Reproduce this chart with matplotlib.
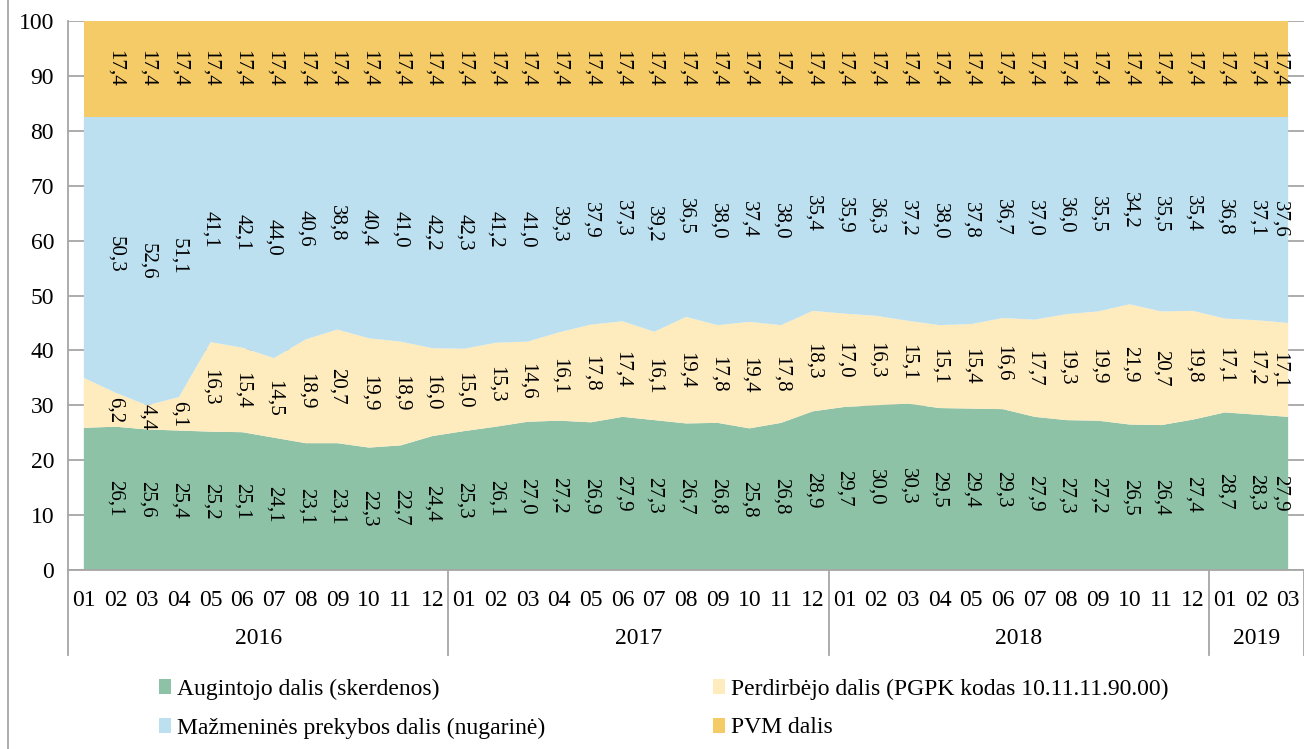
import matplotlib

matplotlib.use("Agg")
import matplotlib.pyplot as plt
from matplotlib.lines import Line2D
from matplotlib.patches import Patch

plt.rcParams["font.family"] = ["Liberation Serif", "DejaVu Serif"]

# monthly shares of retail price, %, 2016-01 .. 2019-03
months = ["01", "02", "03", "04", "05", "06", "07", "08", "09", "10", "11", "12"] * 3 + ["01", "02", "03"]
years = ["2016", "2017", "2018", "2019"]
year_len = [12, 12, 12, 3]

augintojo = [25.9, 26.1, 25.6, 25.4, 25.2, 25.1, 24.1, 23.1, 23.1, 22.3, 22.7, 24.4,
             25.3, 26.1, 27.0, 27.2, 26.9, 27.9, 27.3, 26.7, 26.8, 25.8, 26.8, 28.9,
             29.7, 30.0, 30.3, 29.5, 29.4, 29.3, 27.9, 27.3, 27.2, 26.5, 26.4, 27.4,
             28.7, 28.3, 27.9]
perdirbejo = [9.1, 6.2, 4.4, 6.1, 16.3, 15.4, 14.5, 18.9, 20.7, 19.9, 18.9, 16.0,
              15.0, 15.3, 14.6, 16.1, 17.8, 17.4, 16.1, 19.4, 17.8, 19.4, 17.8, 18.3,
              17.0, 16.3, 15.1, 15.1, 15.4, 16.6, 17.7, 19.3, 19.9, 21.9, 20.7, 19.8,
              17.1, 17.2, 17.1]
mazmenine = [47.6, 50.3, 52.6, 51.1, 41.1, 42.1, 44.0, 40.6, 38.8, 40.4, 41.0, 42.2,
             42.3, 41.2, 41.0, 39.3, 37.9, 37.3, 39.2, 36.5, 38.0, 37.4, 38.0, 35.4,
             35.9, 36.3, 37.2, 38.0, 37.8, 36.7, 37.0, 36.0, 35.5, 34.2, 35.5, 35.4,
             36.8, 37.1, 37.6]
pvm = [17.4] * 39

series = [augintojo, perdirbejo, mazmenine, pvm]
names = [
    "Augintojo dalis (skerdenos)",
    "Perdirbėjo dalis (PGPK kodas 10.11.11.90.00)",
    "Mažmeninės prekybos dalis (nugarinė)",
    "PVM dalis",
]
colors = ["#8DC2A7", "#FEEBBE", "#BCE0EF", "#F4CB67"]
grid_c = "#A6A6A6"

W, H = 1304, 749
fig = plt.figure(figsize=(W / 100, H / 100), dpi=100, facecolor="white")
ax = fig.add_axes([68 / W, (H - 570) / H, 1236 / W, 549 / H])

x = list(range(len(months)))
ax.stackplot(x, *series, colors=colors, linewidth=0, zorder=2)

ax.set_xlim(-0.5, len(months) - 0.5)
ax.set_ylim(0, 100)
ax.set_yticks(range(0, 101, 10))
ax.tick_params(axis="y", length=0, labelsize=17, pad=10)
ax.set_xticks([])
ax.grid(axis="y", color=grid_c, lw=1.3, zorder=0)
ax.set_axisbelow(True)
for side in ["top", "right"]:
    ax.spines[side].set_visible(False)
for side in ["left", "bottom"]:
    ax.spines[side].set_color(grid_c)
    ax.spines[side].set_linewidth(1.3)

# value labels (first month has none, last one is pushed inside)
base = [0.0] * len(x)
for vals in series:
    for i in range(1, len(x)):
        xi = i if i < len(x) - 1 else i - 0.27
        ax.text(xi, base[i] + vals[i] / 2, f"{vals[i]:.1f}".replace(".", ","),
                rotation=270, ha="center", va="center", fontsize=15, zorder=3)
    base = [b + v for b, v in zip(base, vals)]

# two-level category axis
tr = ax.get_xaxis_transform()
for i, m in enumerate(months):
    ax.text(i, -0.055, m, transform=tr, ha="center", va="center", fontsize=17, clip_on=False)
start = 0
seps = [-0.5]
for yr, n in zip(years, year_len):
    ax.text(start + (n - 1) / 2, -0.124, yr, transform=tr, ha="center", va="center",
            fontsize=17, clip_on=False)
    start += n
    seps.append(start - 0.5)
for s in seps:
    ax.plot([s, s], [0, -0.155], transform=tr, color=grid_c, lw=1.3, clip_on=False)

handles = [Patch(facecolor=c, edgecolor="none") for c in colors]
order = [0, 2, 1, 3]
fig.legend([handles[k] for k in order], [names[k] for k in order], ncol=2,
           loc="center left", bbox_to_anchor=(138 / W, 0.054), frameon=False,
           fontsize=17, handlelength=0.5, handleheight=0.6, handletextpad=0.25,
           columnspacing=7.1, labelspacing=0.75)

fig.add_artist(Line2D([8 / W, 8 / W], [0, 1], color=grid_c, lw=1.3))

fig.savefig("out.png", dpi=100, facecolor="white")
